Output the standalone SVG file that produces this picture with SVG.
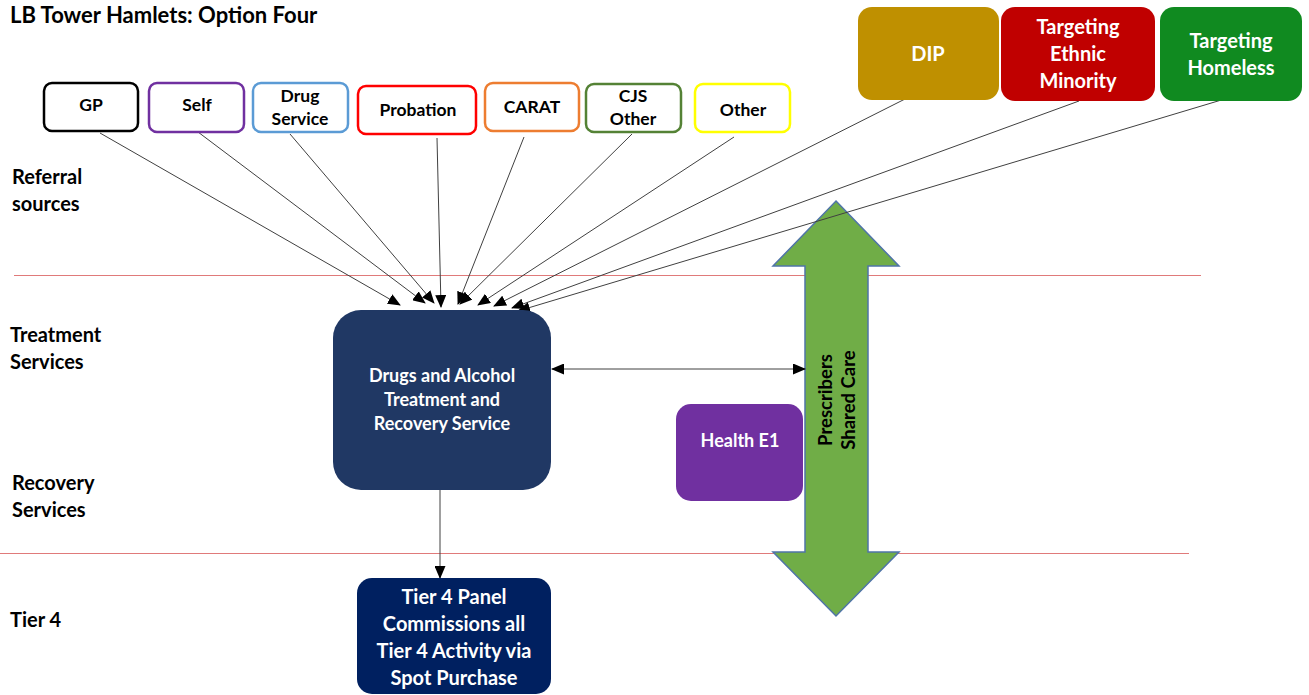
<svg xmlns="http://www.w3.org/2000/svg" width="1309" height="695" viewBox="0 0 1309 695">
  <style>
    text { font-family: Lato, "Liberation Sans", sans-serif; font-weight: bold; }
    .lbl { font-size: 20px; fill: #000; }
    .ref { fill: #fff; stroke-width: 2.5; }
    .reftxt { font-size: 17.5px; fill: #000; text-anchor: middle; }
    .wtxt { fill: #fff; text-anchor: middle; }
    .conn { stroke: #404040; stroke-width: 1; fill: none; marker-end: url(#ah); }
    .band { stroke: #e07a7a; stroke-width: 1; }
  </style>
  <defs>
    <marker id="ah" markerUnits="userSpaceOnUse" markerWidth="13" markerHeight="11" refX="12" refY="5.5" orient="auto">
      <path d="M0,0 L13,5.5 L0,11 Z" fill="#000"/>
    </marker>
    <marker id="ahs" markerUnits="userSpaceOnUse" markerWidth="13" markerHeight="11" refX="1" refY="5.5" orient="auto">
      <path d="M13,0 L0,5.5 L13,11 Z" fill="#000"/>
    </marker>
  </defs>

  <!-- title -->
  <text x="10" y="23" font-size="22" fill="#000">LB Tower Hamlets: Option Four</text>

  <!-- band separators -->
  <line class="band" x1="14" y1="275.5" x2="1201" y2="275.5"/>
  <line class="band" x1="0" y1="553.5" x2="1189" y2="553.5"/>

  <!-- band labels -->
  <text class="lbl" x="12" y="184">Referral</text>
  <text class="lbl" x="12" y="211">sources</text>
  <text class="lbl" x="10" y="342">Treatment</text>
  <text class="lbl" x="10" y="369">Services</text>
  <text class="lbl" x="12" y="490">Recovery</text>
  <text class="lbl" x="12" y="517">Services</text>
  <text class="lbl" x="10" y="627">Tier 4</text>

  <!-- shared care arrow -->
  <g id="shared-care">
    <path d="M836,201 L899,266 L868,266 L868,552 L899,552 L836,616 L773,552 L805,552 L805,266 L773,266 Z" fill="#70ad47" stroke="#4f74a8" stroke-width="1.5"/>
    <text transform="translate(832,400) rotate(-90)" font-size="18.5" fill="#000" text-anchor="middle">Prescribers</text>
    <text transform="translate(855,400) rotate(-90)" font-size="18.5" fill="#000" text-anchor="middle">Shared Care</text>
  </g>

  <!-- connectors -->
  <g id="connectors">
    <line class="conn" x1="100" y1="133" x2="400" y2="305"/>
    <line class="conn" x1="198" y1="132" x2="425" y2="303"/>
    <line class="conn" x1="290" y1="134" x2="434" y2="303"/>
    <line class="conn" x1="437" y1="138" x2="441" y2="307" stroke-width="1.6"/>
    <line class="conn" x1="524" y1="137" x2="458" y2="304"/>
    <line class="conn" x1="632" y1="134" x2="460" y2="304"/>
    <line class="conn" x1="734" y1="137" x2="478" y2="305"/>
    <line class="conn" x1="909" y1="97" x2="494" y2="306"/>
    <line class="conn" x1="1079" y1="101" x2="512" y2="308"/>
    <line class="conn" x1="1228" y1="98" x2="518" y2="311"/>
    <line class="conn" x1="552" y1="369" x2="805" y2="369" marker-start="url(#ahs)"/>
    <line class="conn" x1="440" y1="490" x2="440" y2="578"/>
  </g>

  <!-- referral sources -->
  <g id="gp">
    <rect class="ref" x="44" y="83" width="94" height="48" rx="8" stroke="#000"/>
    <text class="reftxt" x="91" y="111">GP</text>
  </g>
  <g id="self">
    <rect class="ref" x="149" y="83" width="95" height="49" rx="8" stroke="#7030a0"/>
    <text class="reftxt" x="197" y="111">Self</text>
  </g>
  <g id="drug-service">
    <rect class="ref" x="253" y="83" width="95" height="49" rx="8" stroke="#5b9bd5"/>
    <text class="reftxt" x="300" y="102">Drug</text>
    <text class="reftxt" x="300" y="125">Service</text>
  </g>
  <g id="probation">
    <rect class="ref" x="358" y="86" width="118" height="48" rx="8" stroke="#ff0000"/>
    <text class="reftxt" x="418" y="116">Probation</text>
  </g>
  <g id="carat">
    <rect class="ref" x="485" y="83" width="94" height="48" rx="8" stroke="#ed7d31"/>
    <text class="reftxt" x="532" y="113">CARAT</text>
  </g>
  <g id="cjs-other">
    <rect class="ref" x="586" y="84" width="95" height="48" rx="8" stroke="#548235"/>
    <text class="reftxt" x="633" y="102">CJS</text>
    <text class="reftxt" x="633" y="125">Other</text>
  </g>
  <g id="other">
    <rect class="ref" x="695" y="84" width="95" height="48" rx="8" stroke="#ffff00"/>
    <text class="reftxt" x="743" y="116">Other</text>
  </g>

  <!-- targeted services -->
  <g id="dip">
    <rect x="858" y="7" width="141" height="93" rx="14" fill="#bf9000"/>
    <text class="wtxt" x="928" y="61" font-size="20">DIP</text>
  </g>
  <g id="targeting-ethnic-minority">
    <rect x="1001" y="7" width="154" height="94" rx="14" fill="#c00000"/>
    <text class="wtxt" x="1078" y="34" font-size="20">Targeting</text>
    <text class="wtxt" x="1078" y="61" font-size="20">Ethnic</text>
    <text class="wtxt" x="1078" y="88" font-size="20">Minority</text>
  </g>
  <g id="targeting-homeless">
    <rect x="1160" y="7" width="142" height="94" rx="14" fill="#108a20"/>
    <text class="wtxt" x="1231" y="48" font-size="20">Targeting</text>
    <text class="wtxt" x="1231" y="75" font-size="20">Homeless</text>
  </g>

  <!-- treatment and recovery -->
  <g id="treatment-recovery">
    <rect x="333" y="310" width="218" height="180" rx="28" fill="#203864"/>
    <text class="wtxt" x="442" y="382" font-size="18">Drugs and Alcohol</text>
    <text class="wtxt" x="442" y="406" font-size="18">Treatment and</text>
    <text class="wtxt" x="442" y="430" font-size="18">Recovery Service</text>
  </g>
  <g id="health-e1">
    <rect x="676" y="404" width="127" height="97" rx="15" fill="#7030a0"/>
    <text class="wtxt" x="740" y="447" font-size="18">Health E1</text>
  </g>
  <g id="tier4-panel">
    <rect x="357" y="578" width="194" height="116" rx="15" fill="#002060"/>
    <text class="wtxt" x="454" y="604" font-size="20">Tier 4 Panel</text>
    <text class="wtxt" x="454" y="631" font-size="20">Commissions all</text>
    <text class="wtxt" x="454" y="658" font-size="20">Tier 4 Activity via</text>
    <text class="wtxt" x="454" y="685" font-size="20">Spot Purchase</text>
  </g>
</svg>
